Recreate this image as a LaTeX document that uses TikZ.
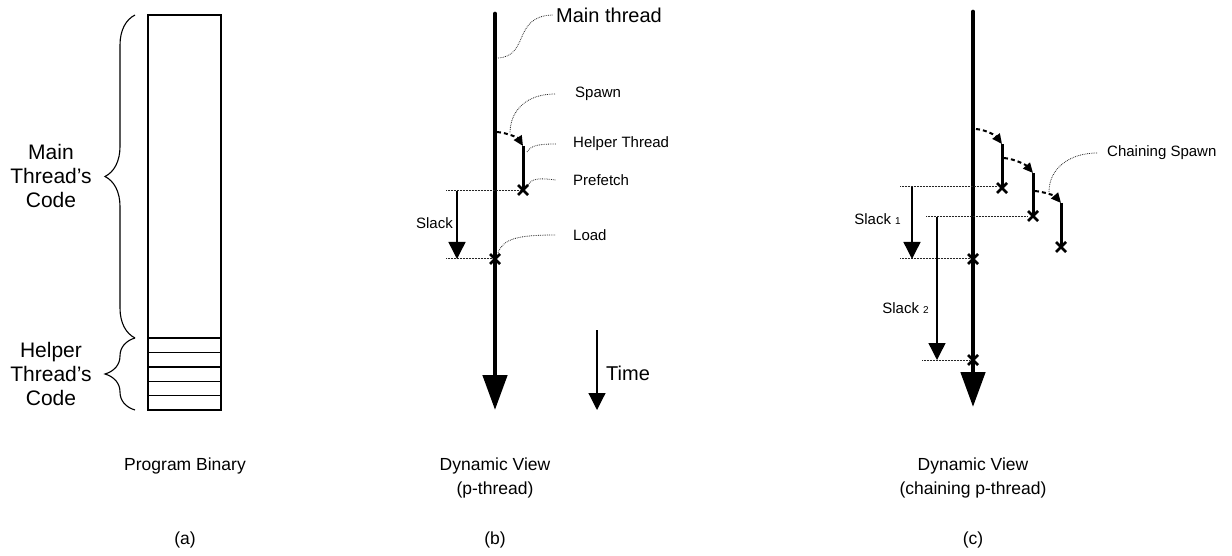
\documentclass[tikz,border=0pt]{standalone}
\usepackage{fontspec}
\setmainfont{Liberation Sans}
\usetikzlibrary{arrows.meta,decorations.pathreplacing}
\begin{document}
\begin{tikzpicture}[x=1pt,y=-1pt,
  big/.style={font=\fontsize{17.5}{24}\selectfont, align=center, inner sep=0pt},
  side/.style={font=\fontsize{21}{24}\selectfont, align=center, inner sep=0pt},
  small/.style={font=\fontsize{15}{18}\selectfont, inner sep=0pt},
  mainthr/.style={line width=4.7pt, line cap=round, -{Triangle[width=24pt,length=35pt]}},
  helperthr/.style={line width=3pt},
  spawnarr/.style={line width=2pt, dash pattern=on 4pt off 3pt, -{Triangle[width=9pt,length=10pt]}},
  leader/.style={line width=0.8pt, densely dotted, black!85},
  guide/.style={line width=1pt, dash pattern=on 1pt off 0.5pt, black!85},
  slackarr/.style={line width=1.4pt, -{Triangle[width=17pt,length=17pt]}},
  codebox/.style={line width=1.4pt},
  codebrace/.style={line width=1.1pt, decorate, decoration={brace, amplitude=30pt}},
  xmark/.pic={\draw[line width=2.8pt] (-5,-5) -- (5,5) (-5,5) -- (5,-5);}
]
\useasboundingbox (0,0) rectangle (1232,556);

% ---------------- (a) Program binary ----------------
\draw[codebox] (148,15) rectangle (221,410);
\foreach \yy in {338,352.4,366.8,381.2,395.6}
  \draw[codebox] (148,\yy) -- (221,\yy);
\coordinate (mbTop) at (135,15);
\coordinate (mbBot) at (135,338);
\coordinate (hbTop) at (135,338);
\coordinate (hbBot) at (135,410);
\draw[codebrace] (mbBot) -- (mbTop);
\draw[codebrace] (hbBot) -- (hbTop);
\node[side] (maincode) at (51,176) {Main\\Thread’s\\Code};
\node[side] (helpcode) at (51,374) {Helper\\Thread’s\\Code};
\node[big] (pbin) at (185,466) {Program Binary};
\node[big] (la) at (185,540) {(a)};

% ---------------- (b) Dynamic view p-thread ----------------
\coordinate (bTop) at (495,14);
\coordinate (bTip) at (495,410);
\draw[mainthr] (bTop) -- (bTip);
\coordinate (bSpawn) at (497,132);
\coordinate (bHTop) at (523,146);
\coordinate (bHBot) at (523,190);
\draw[helperthr] (bHTop) -- (bHBot);
\draw[spawnarr] (bSpawn) .. controls (508,133) and (518,138) .. (bHTop);
\pic at (bHBot) {xmark};
\coordinate (bLoad) at (495,259);
\pic at (bLoad) {xmark};

\node[font=\fontsize{20}{24}\selectfont, inner sep=0pt, anchor=west] (bMain) at (556,15) {Main thread};
\node[small, anchor=west] (bSpawnT) at (575,94) {Spawn};
\node[small, anchor=west] (bHelperT) at (573,144) {Helper Thread};
\node[small, anchor=west] (bPrefT) at (573,180) {Prefetch};
\node[small, anchor=west] (bLoadT) at (573,235) {Load};

\draw[leader] (498,58) .. controls (530,56) and (512,16) .. ([xshift=-3pt]bMain.west);
\draw[leader] ([xshift=-20pt]bSpawnT.west) .. controls (525,94) and (510,112) .. (510,133);
\draw[leader] (527,152) .. controls (531,145) and (540,144) .. ([xshift=-17pt]bHelperT.west);
\draw[leader] (528,185) .. controls (532,178) and (540,178) .. ([xshift=-17pt]bPrefT.west);
\draw[leader] (498,253) .. controls (503,238) and (520,235) .. ([xshift=-17pt]bLoadT.west);

\coordinate (bG1a) at (446,191); \coordinate (bG1b) at (520,191);
\coordinate (bG2a) at (446,259); \coordinate (bG2b) at (492,259);
\draw[guide] (bG1a) -- (bG1b);
\draw[guide] (bG2a) -- (bG2b);
\coordinate (bS1) at (457,191); \coordinate (bS2) at (457,259);
\draw[slackarr] (bS1) -- (bS2);
\node[small, anchor=east] (bSlack) at (453,223) {Slack};

\coordinate (tA) at (597,330); \coordinate (tB) at (597,410);
\draw[slackarr, line width=1.2pt] (tA) -- (tB);
\node[font=\fontsize{20}{24}\selectfont, inner sep=0pt, anchor=west] (timeT) at (606,373) {Time};

\node[big] (bcap) at (495,478) {Dynamic View\\(p-thread)};
\node[big] (lb) at (495,540) {(b)};

% ---------------- (c) Dynamic view chaining p-thread ----------------
\coordinate (cTop) at (973,12);
\coordinate (cTip) at (973,407);
\draw[mainthr] (cTop) -- (cTip);

\coordinate (cS1) at (976,129);  \coordinate (cH1t) at (1002,144); \coordinate (cH1b) at (1002,188);
\coordinate (cS2) at (1004,158); \coordinate (cH2t) at (1033,173); \coordinate (cH2b) at (1033,216);
\coordinate (cS3) at (1035,191); \coordinate (cH3t) at (1061,203); \coordinate (cH3b) at (1061,247);
\draw[helperthr] (cH1t) -- (cH1b);
\draw[helperthr] (cH2t) -- (cH2b);
\draw[helperthr] (cH3t) -- (cH3b);
\draw[spawnarr] (cS1) .. controls (987,130) and (996,136) .. (cH1t);
\draw[spawnarr] (cS2) .. controls (1015,159) and (1026,165) .. (cH2t);
\draw[spawnarr] (cS3) .. controls (1045,192) and (1055,196) .. (cH3t);
\pic at (cH1b) {xmark};
\pic at (cH2b) {xmark};
\pic at (cH3b) {xmark};
\coordinate (cL1) at (973,259);
\coordinate (cL2) at (973,360);
\pic at (cL1) {xmark};
\pic at (cL2) {xmark};

\node[small, anchor=west] (cChain) at (1107,153) {Chaining Spawn};
\draw[leader] (1049,192) .. controls (1049,168) and (1070,153) .. ([xshift=-10pt]cChain.west);

\coordinate (cG1a) at (900,187); \coordinate (cG1b) at (997,187);
\coordinate (cG2a) at (926,217); \coordinate (cG2b) at (1028,217);
\coordinate (cG3a) at (900,259); \coordinate (cG3b) at (970,259);
\coordinate (cG4a) at (922,360); \coordinate (cG4b) at (970,360);
\draw[guide] (cG1a) -- (cG1b);
\draw[guide] (cG2a) -- (cG2b);
\draw[guide] (cG3a) -- (cG3b);
\draw[guide] (cG4a) -- (cG4b);

\coordinate (cA1) at (912,187); \coordinate (cA1e) at (912,259);
\coordinate (cA2) at (937,217); \coordinate (cA2e) at (937,360);
\draw[slackarr] (cA1) -- (cA1e);
\draw[slackarr] (cA2) -- (cA2e);
\node[small, anchor=east] (cSlack1) at (901,219) {Slack {\fontsize{10}{12}\selectfont 1}};
\node[small, anchor=east] (cSlack2) at (929,308) {Slack {\fontsize{10}{12}\selectfont 2}};

\node[big] (ccap) at (973,478) {Dynamic View\\(chaining p-thread)};
\node[big] (lc) at (973,540) {(c)};
\end{tikzpicture}
\end{document}
